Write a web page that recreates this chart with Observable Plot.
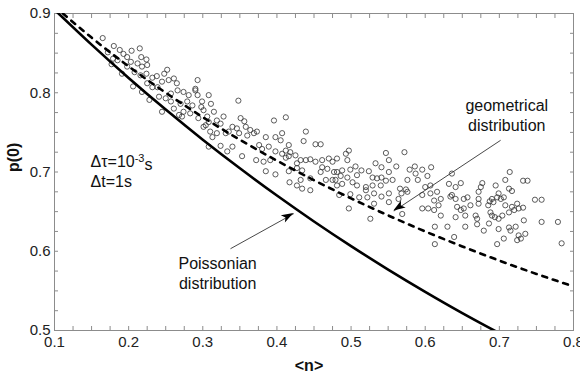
<!DOCTYPE html>
<html><head><meta charset="utf-8">
<script src="https://cdn.jsdelivr.net/npm/d3@7"></script>
<script src="https://cdn.jsdelivr.net/npm/@observablehq/plot@0.6"></script>
<style>body{margin:0;background:#fff;overflow:hidden}</style>
</head><body><div id="chart"></div>
<script>
// measured points: <n> and p(0)
const nObs = [0.165,0.180,0.172,0.188,0.193,0.204,0.215,0.179,0.185,0.198,0.203,0.217,0.224,0.177,0.191,0.198,0.212,0.218,0.225,0.208,0.216,0.224,0.232,0.238,0.252,0.248,0.206,0.218,0.225,0.232,0.239,0.245,0.254,0.261,0.265,0.293,0.228,0.241,0.250,0.257,0.266,0.274,0.281,0.290,0.293,0.257,0.270,0.279,0.286,0.299,0.308,0.245,0.261,0.268,0.274,0.272,0.283,0.301,0.306,0.304,0.308,0.348,0.396,0.412,0.311,0.298,0.290,0.294,0.315,0.328,0.351,0.356,0.319,0.324,0.340,0.346,0.358,0.364,0.373,0.301,0.310,0.319,0.331,0.335,0.349,0.360,0.369,0.385,0.398,0.407,0.313,0.405,0.439,0.436,0.452,0.459,0.324,0.340,0.308,0.333,0.353,0.376,0.380,0.389,0.398,0.416,0.412,0.418,0.407,0.372,0.382,0.391,0.412,0.416,0.425,0.432,0.427,0.439,0.445,0.452,0.461,0.470,0.481,0.385,0.398,0.416,0.427,0.434,0.445,0.417,0.427,0.432,0.445,0.434,0.459,0.461,0.468,0.466,0.475,0.481,0.481,0.497,0.493,0.475,0.495,0.547,0.572,0.551,0.533,0.541,0.561,0.506,0.514,0.524,0.499,0.488,0.477,0.551,0.579,0.586,0.596,0.608,0.587,0.603,0.590,0.486,0.479,0.495,0.508,0.502,0.529,0.535,0.541,0.547,0.556,0.576,0.488,0.508,0.520,0.529,0.540,0.520,0.531,0.541,0.551,0.566,0.574,0.568,0.576,0.564,0.499,0.484,0.511,0.522,0.531,0.551,0.600,0.607,0.596,0.607,0.616,0.621,0.612,0.604,0.612,0.618,0.621,0.632,0.634,0.641,0.641,0.643,0.641,0.497,0.526,0.569,0.596,0.613,0.630,0.636,0.648,0.636,0.654,0.652,0.657,0.648,0.652,0.654,0.661,0.668,0.670,0.672,0.672,0.672,0.675,0.677,0.670,0.679,0.685,0.687,0.690,0.692,0.695,0.697,0.699,0.702,0.706,0.708,0.714,0.713,0.717,0.688,0.690,0.694,0.699,0.704,0.708,0.713,0.717,0.724,0.726,0.732,0.720,0.686,0.699,0.713,0.715,0.722,0.726,0.729,0.735,0.733,0.706,0.697,0.732,0.738,0.748,0.757,0.757,0.779,0.784,0.639,0.613,0.724];
const p0Obs = [0.869,0.859,0.851,0.854,0.849,0.853,0.856,0.843,0.841,0.845,0.839,0.845,0.842,0.836,0.824,0.833,0.837,0.833,0.835,0.826,0.822,0.824,0.819,0.821,0.829,0.824,0.808,0.801,0.812,0.807,0.807,0.814,0.816,0.818,0.812,0.816,0.791,0.795,0.793,0.799,0.803,0.801,0.797,0.803,0.797,0.789,0.786,0.789,0.784,0.789,0.797,0.776,0.780,0.772,0.776,0.770,0.774,0.778,0.770,0.759,0.763,0.790,0.765,0.769,0.786,0.782,0.805,0.768,0.776,0.770,0.768,0.764,0.765,0.761,0.757,0.755,0.757,0.753,0.751,0.757,0.751,0.749,0.749,0.751,0.749,0.746,0.749,0.744,0.744,0.749,0.744,0.740,0.751,0.739,0.735,0.735,0.733,0.732,0.732,0.726,0.720,0.734,0.729,0.732,0.726,0.734,0.727,0.725,0.723,0.715,0.713,0.715,0.718,0.720,0.721,0.715,0.711,0.715,0.716,0.713,0.715,0.717,0.717,0.701,0.697,0.701,0.705,0.702,0.692,0.687,0.683,0.690,0.677,0.679,0.700,0.706,0.704,0.690,0.690,0.700,0.683,0.727,0.723,0.713,0.715,0.724,0.725,0.715,0.711,0.706,0.707,0.707,0.702,0.701,0.703,0.702,0.700,0.700,0.703,0.707,0.703,0.706,0.698,0.695,0.690,0.695,0.690,0.693,0.696,0.687,0.693,0.692,0.693,0.689,0.690,0.690,0.685,0.683,0.681,0.683,0.683,0.677,0.673,0.669,0.673,0.679,0.678,0.673,0.675,0.666,0.672,0.671,0.668,0.668,0.660,0.662,0.681,0.683,0.671,0.673,0.675,0.666,0.664,0.654,0.652,0.658,0.645,0.685,0.669,0.681,0.666,0.656,0.643,0.654,0.641,0.647,0.654,0.631,0.631,0.698,0.686,0.671,0.631,0.666,0.668,0.652,0.654,0.645,0.658,0.645,0.641,0.660,0.666,0.675,0.681,0.686,0.634,0.626,0.658,0.663,0.666,0.662,0.683,0.668,0.673,0.666,0.668,0.690,0.700,0.679,0.676,0.649,0.645,0.643,0.641,0.645,0.658,0.649,0.656,0.660,0.654,0.655,0.652,0.635,0.628,0.630,0.626,0.631,0.620,0.616,0.622,0.639,0.616,0.609,0.689,0.689,0.665,0.665,0.637,0.637,0.610,0.618,0.609,0.614];

// theoretical curves
const poissonN = [0.10,0.15,0.20,0.25,0.30,0.35,0.40,0.45,0.50,0.55,0.60,0.65,0.70];
const poissonP = [0.9048,0.8607,0.8187,0.7788,0.7408,0.7047,0.6703,0.6376,0.6065,0.5769,0.5488,0.5220,0.4966];
const geomN = [0.10,0.15,0.20,0.25,0.30,0.35,0.40,0.45,0.50,0.55,0.60,0.65,0.70,0.75,0.80];
const geomP = [0.9091,0.8696,0.8333,0.8000,0.7692,0.7407,0.7143,0.6897,0.6667,0.6452,0.6250,0.6061,0.5882,0.5714,0.5556];

// ticks
const xMajor = [0.1,0.2,0.3,0.4,0.5,0.6,0.7,0.8];
const yMajor = [0.5,0.6,0.7,0.8,0.9];
const xMinor = [0.1,0.125,0.15,0.175,0.2,0.225,0.25,0.275,0.3,0.325,0.35,0.375,0.4,0.425,0.45,0.475,0.5,0.525,0.55,0.575,0.6,0.625,0.65,0.675,0.7,0.725,0.75,0.775,0.8];
const yMinor = [0.5,0.525,0.55,0.575,0.6,0.625,0.65,0.675,0.7,0.725,0.75,0.775,0.8,0.825,0.85,0.875,0.9];

// annotations
const labelText = ["geometrical\ndistribution","Poissonian\ndistribution"];
const labelX = [0.710,0.320];
const labelY = [0.772,0.573];
const paramText = ["Δτ=10-3s","Δt=1s"];
const paramX = [0.1486,0.1486];
const paramY = [0.7127,0.6874];
const arrowFrom = [[0.7017,0.740],[0.3374,0.6032]];
const arrowTo = [[0.5577,0.6507],[0.4228,0.6475]];

const pts = nObs.map((n,i)=>({n, p: p0Obs[i]}));
const pois = poissonN.map((n,i)=>({n, p: poissonP[i]}));
const geom = geomN.map((n,i)=>({n, p: geomP[i]}));
const labels = labelText.map((t,i)=>({t, x: labelX[i], y: labelY[i]}));
const params = paramText.map((t,i)=>({t, x: paramX[i], y: paramY[i]}));
const arrows = arrowFrom.map((f,i)=>({x1:f[0], y1:f[1], x2:arrowTo[i][0], y2:arrowTo[i][1]}));

const axisGray = "#8c8c8c";
const font = "'Liberation Sans', Arial, sans-serif";

const chart = Plot.plot({
  width: 580, height: 376,
  marginLeft: 54, marginRight: 7, marginTop: 13, marginBottom: 46,
  style: {fontFamily: font, background: "#fff", color: "#222", overflow: "visible"},
  x: {domain: [0.1, 0.8]},
  y: {domain: [0.5, 0.9]},
  marks: [
    Plot.frame({stroke: axisGray}),
    Plot.axisX({anchor: "bottom", ticks: xMinor, tickSize: 4, dy: -4, fill: "none", label: null, stroke: axisGray}),
    Plot.axisX({anchor: "top", ticks: xMinor, tickSize: 4, dy: 4, fill: "none", label: null, stroke: axisGray}),
    Plot.axisY({anchor: "left", ticks: yMinor, tickSize: 4, dx: 4, fill: "none", label: null, stroke: axisGray}),
    Plot.axisY({anchor: "right", ticks: yMinor, tickSize: 4, dx: -4, fill: "none", label: null, stroke: axisGray}),
    Plot.axisX({anchor: "bottom", ticks: xMajor, tickSize: 0, tickPadding: 6, tickFormat: d3.format(".1f"), fontSize: 15, label: null, fill: "#222"}),
    Plot.axisY({anchor: "left", ticks: yMajor, tickSize: 0, tickPadding: 4, tickFormat: d3.format(".1f"), fontSize: 15, label: null, fill: "#222"}),
    Plot.dot(pts, {x: "n", y: "p", r: 2.6, stroke: "#333", strokeWidth: 0.8, fill: "none"}),
    Plot.line(pois, {x: "n", y: "p", stroke: "#000", strokeWidth: 2.6, curve: "natural", clip: true}),
    Plot.line(geom, {x: "n", y: "p", stroke: "#000", strokeWidth: 2.6, strokeDasharray: "5,6", curve: "natural", clip: true}),
    Plot.link(arrows, {x1: "x1", y1: "y1", x2: "x2", y2: "y2", stroke: "#333", strokeWidth: 0.9}),
    Plot.text(labels, {x: "x", y: "y", text: "t", textAnchor: "middle", fontSize: 16, lineHeight: 1.25, fill: "#111"}),
    Plot.text(params, {x: "x", y: "y", text: "t", textAnchor: "start", fontSize: 16, fill: "#111"}),
    Plot.text(["p(0)"], {frameAnchor: "left", rotate: -90, dx: -41, fontSize: 16, fontWeight: "bold", fill: "#111"}),
    Plot.text(["<n>"], {frameAnchor: "bottom", lineAnchor: "middle", dx: -5, dy: 35, fontSize: 16, fontWeight: "bold", fill: "#111"})
  ]
});

document.getElementById("chart").appendChild(chart);

// superscript in the Δτ annotation
const svgSel = d3.select(chart);
svgSel.selectAll("text").each(function() {
  if (this.textContent === "Δτ=10-3s") {
    const t = d3.select(this);
    t.text(null);
    t.append("tspan").text("Δτ=10");
    t.append("tspan").attr("dy", "-0.5em").attr("font-size", 11).text("-3");
    t.append("tspan").attr("dy", "0.5em").text("s");
  }
});

// filled arrowheads placed through the chart's own scales
const sx = chart.scale("x"), sy = chart.scale("y");
arrows.forEach(a => {
  const x1 = sx.apply(a.x1), y1 = sy.apply(a.y1), x2 = sx.apply(a.x2), y2 = sy.apply(a.y2);
  const ang = Math.atan2(y2 - y1, x2 - x1);
  const c = Math.cos(ang), s = Math.sin(ang);
  const L = 12, W = 4.2, N = 9;
  const pA = [x2 - L*c - W*s, y2 - L*s + W*c];
  const pB = [x2 - N*c, y2 - N*s];
  const pC = [x2 - L*c + W*s, y2 - L*s - W*c];
  svgSel.append("path")
    .attr("d", `M${x2},${y2}L${pA[0]},${pA[1]}L${pB[0]},${pB[1]}L${pC[0]},${pC[1]}Z`)
    .attr("fill", "#000");
});
</script>
</body></html>
